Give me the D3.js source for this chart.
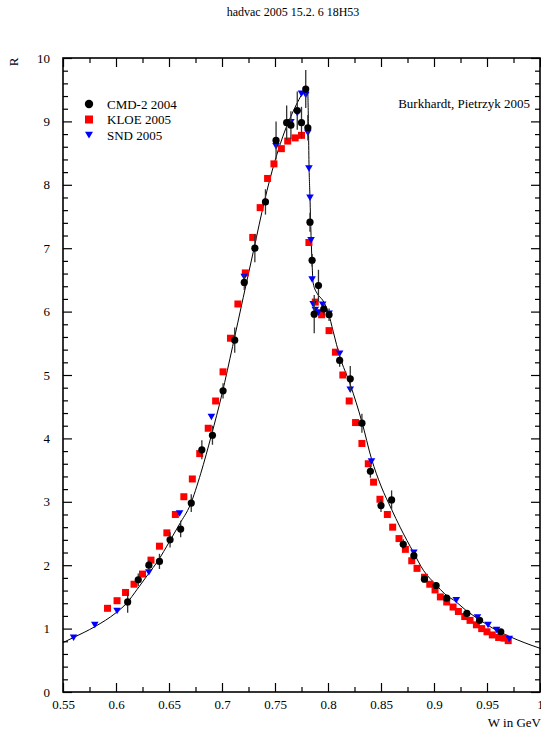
<!DOCTYPE html>
<html>
<head>
<meta charset="utf-8">
<script src="https://cdn.jsdelivr.net/npm/d3@7/dist/d3.min.js"></script>
<style>
    body { margin: 0; background: #fff; }
    svg text { font-family: "Liberation Serif", "Times New Roman", serif; fill: #000; }
</style>
</head>
<body>
<div id="chart"></div>
<script>
// CMD-2 2004 (W in GeV, R, error)
const cmdW = [0.611, 0.621, 0.631, 0.641, 0.651, 0.661, 0.671, 0.681, 0.691, 0.701, 0.712, 0.721, 0.731, 0.741,
    0.751, 0.761, 0.765, 0.771, 0.775, 0.779, 0.781, 0.783, 0.785, 0.787, 0.791, 0.796, 0.801, 0.811, 0.821,
    0.832, 0.840, 0.850, 0.860, 0.871, 0.881, 0.891, 0.902, 0.912, 0.931, 0.943, 0.963];
const cmdR = [1.42, 1.77, 2.00, 2.06, 2.40, 2.57, 2.98, 3.82, 4.05, 4.75, 5.55, 6.46, 7.00, 7.73,
    8.70, 8.98, 8.94, 9.17, 8.98, 9.51, 8.90, 7.41, 6.81, 5.96, 6.41, 6.04, 5.95, 5.23, 4.94,
    4.24, 3.48, 2.94, 3.03, 2.33, 2.15, 1.78, 1.68, 1.48, 1.24, 1.13, 0.95];
const cmdErr = [0.17, 0.10, 0.08, 0.12, 0.12, 0.13, 0.14, 0.15, 0.15, 0.12, 0.20, 0.12, 0.22, 0.20,
    0.30, 0.27, 0.22, 0.30, 0.25, 0.30, 0.20, 0.15, 0.10, 0.30, 0.25, 0.10, 0.10, 0.10, 0.20,
    0.15, 0.10, 0.10, 0.15, 0.08, 0.06, 0.05, 0.05, 0.05, 0.05, 0.04, 0.04];

// KLOE 2005
const kloeW = [0.592, 0.601, 0.609, 0.617, 0.625, 0.633, 0.641, 0.648, 0.656, 0.664, 0.672, 0.679, 0.687,
    0.694, 0.701, 0.708, 0.715, 0.722, 0.729, 0.736, 0.743, 0.749, 0.756, 0.762, 0.769, 0.775, 0.782,
    0.788, 0.794, 0.801, 0.807, 0.814, 0.820, 0.826, 0.832, 0.838, 0.843, 0.849, 0.856, 0.861, 0.867,
    0.873, 0.879, 0.884, 0.891, 0.896, 0.901, 0.906, 0.912, 0.918, 0.923, 0.929, 0.934, 0.940, 0.945,
    0.950, 0.955, 0.961, 0.966, 0.970];
const kloeR = [1.32, 1.44, 1.57, 1.70, 1.86, 2.08, 2.30, 2.51, 2.80, 3.08, 3.36, 3.76, 4.16,
    4.59, 5.05, 5.58, 6.12, 6.61, 7.17, 7.64, 8.10, 8.33, 8.57, 8.69, 8.74, 8.78, 7.09,
    6.15, 5.95, 5.70, 5.36, 5.00, 4.59, 4.25, 3.92, 3.60, 3.31, 3.04, 2.80, 2.60, 2.42,
    2.25, 2.07, 1.95, 1.81, 1.70, 1.61, 1.50, 1.42, 1.34, 1.27, 1.19, 1.13, 1.06, 1.00,
    0.95, 0.90, 0.86, 0.85, 0.81];

// SND 2005
const sndW = [0.560, 0.580, 0.601, 0.631, 0.660, 0.690, 0.721, 0.751, 0.765, 0.771, 0.775, 0.779, 0.781,
    0.782, 0.783, 0.784, 0.785, 0.786, 0.788, 0.791, 0.795, 0.801, 0.811, 0.821, 0.841, 0.881, 0.921,
    0.941, 0.951, 0.959, 0.971];
const sndR = [0.86, 1.06, 1.28, 1.89, 2.82, 4.34, 6.55, 8.61, 8.99, 9.13, 9.44, 9.42, 8.82,
    8.26, 7.80, 7.13, 6.51, 6.12, 6.03, 5.99, 6.11, 5.97, 5.34, 4.77, 3.64, 2.20, 1.45,
    1.18, 1.06, 0.98, 0.84];

// fit curve
const fitW = [0.55, 0.56, 0.58, 0.60, 0.61, 0.62, 0.63, 0.64, 0.65, 0.66, 0.67, 0.68, 0.69, 0.70, 0.71,
    0.72, 0.73, 0.74, 0.75, 0.76, 0.765, 0.77, 0.775, 0.779, 0.7808, 0.7815, 0.782, 0.783, 0.784, 0.785,
    0.786, 0.79, 0.795, 0.80, 0.805, 0.811, 0.821, 0.832, 0.841, 0.85, 0.86, 0.868, 0.881, 0.89, 0.902,
    0.91, 0.921, 0.93, 0.943, 0.955, 0.972, 0.985, 1.0, 1.01];
const fitR = [0.78, 0.86, 1.03, 1.25, 1.40, 1.62, 1.85, 2.08, 2.36, 2.65, 2.95, 3.45, 4.05, 4.70, 5.45,
    6.22, 6.98, 7.74, 8.38, 8.88, 9.08, 9.26, 9.42, 9.55, 9.50, 9.00, 8.40, 7.80, 7.20, 6.75,
    6.45, 6.28, 6.18, 6.00, 5.68, 5.30, 4.85, 4.26, 3.68, 3.25, 2.88, 2.60, 2.19, 1.92, 1.69,
    1.55, 1.42, 1.29, 1.14, 1.01, 0.87, 0.78, 0.69, 0.64];

const xMajor = [0.55, 0.6, 0.65, 0.7, 0.75, 0.8, 0.85, 0.9, 0.95, 1.0];
const xMinor = [0.575, 0.625, 0.675, 0.725, 0.775, 0.825, 0.875, 0.925, 0.975];
const yMajor = [0, 1, 2, 3, 4, 5, 6, 7, 8, 9, 10];
const yMinor = d3.range(0, 50).map(i => i * 0.2).filter(v => Math.abs(v - Math.round(v)) > 0.01);

const legendItems = [
    { label: 'CMD-2 2004', type: 'circle', color: '#000' },
    { label: 'KLOE 2005', type: 'square', color: '#ff0000' },
    { label: 'SND 2005', type: 'triangle', color: '#0000ff' }
];

const width = 541, height = 733;
const plot = { left: 63, right: 540, top: 58, bottom: 692 };

const svg = d3.select('#chart').append('svg')
    .attr('width', width)
    .attr('height', height);

const x = d3.scaleLinear().domain([0.55, 1.0]).range([plot.left, plot.right]);
const y = d3.scaleLinear().domain([0, 10]).range([plot.bottom, plot.top]);

// title
svg.append('text')
    .attr('x', 293)
    .attr('y', 16)
    .attr('text-anchor', 'middle')
    .style('font-size', '12px')
    .text('hadvac 2005 15.2. 6 18H53');

// axes, ticks point inward
const plotH = plot.bottom - plot.top;
const plotW = plot.right - plot.left;
function drawAxis(axis, transform, values, size, labels) {
    const g = svg.append('g')
        .attr('transform', transform)
        .call(axis.tickValues(values).tickSize(size).tickSizeOuter(0)
            .tickFormat(labels ? labels : ''));
    g.select('.domain').remove();
    g.selectAll('line').attr('stroke', '#000').attr('stroke-width', 1.2);
    return g;
}

const xb = drawAxis(d3.axisBottom(x), `translate(0,${plot.bottom})`, xMajor, -9, d => +d.toFixed(2));
xb.selectAll('text')
    .attr('y', 8)
    .attr('dy', '0.71em')
    .style('font-size', '13px');
drawAxis(d3.axisBottom(x), `translate(0,${plot.bottom})`, xMinor, -5);
drawAxis(d3.axisTop(x), `translate(0,${plot.top})`, xMajor, -9);
drawAxis(d3.axisTop(x), `translate(0,${plot.top})`, xMinor, -5);

const yl = drawAxis(d3.axisLeft(y), `translate(${plot.left},0)`, yMajor, -9, d => d);
yl.selectAll('text')
    .attr('x', -13)
    .style('font-size', '13px');
drawAxis(d3.axisLeft(y), `translate(${plot.left},0)`, yMinor, -5);
drawAxis(d3.axisRight(y), `translate(${plot.right},0)`, yMajor, -9);
drawAxis(d3.axisRight(y), `translate(${plot.right},0)`, yMinor, -5);

svg.append('rect')
    .attr('x', plot.left)
    .attr('y', plot.top)
    .attr('width', plotW)
    .attr('height', plotH)
    .attr('fill', 'none')
    .attr('stroke', '#000')
    .attr('stroke-width', 1.6);

// axis titles
svg.append('text')
    .attr('transform', `translate(18,62) rotate(-90)`)
    .attr('text-anchor', 'middle')
    .style('font-size', '13px')
    .text('R');

svg.append('text')
    .attr('x', 541)
    .attr('y', 727)
    .attr('text-anchor', 'end')
    .style('font-size', '13px')
    .text('W in GeV');

svg.append('text')
    .attr('x', 530)
    .attr('y', 108)
    .attr('text-anchor', 'end')
    .style('font-size', '13px')
    .text('Burkhardt, Pietrzyk 2005');

svg.append('clipPath')
    .attr('id', 'clip')
    .append('rect')
    .attr('x', plot.left)
    .attr('y', plot.top)
    .attr('width', plotW + 1)
    .attr('height', plotH);

const marks = svg.append('g').attr('clip-path', 'url(#clip)');

// fit curve
const fit = fitW.map((w, i) => [w, fitR[i]]);
marks.append('path')
    .datum(fit)
    .attr('fill', 'none')
    .attr('stroke', '#000')
    .attr('stroke-width', 1)
    .attr('d', d3.line().x(d => x(d[0])).y(d => y(d[1])).curve(d3.curveMonotoneX));

const triangle = s => `M${-s},${-s * 0.8}L${s},${-s * 0.8}L0,${s * 0.9}Z`;

// KLOE
marks.selectAll('.kloe')
    .data(kloeW.map((w, i) => [w, kloeR[i]]))
    .enter()
    .append('rect')
    .attr('class', 'kloe')
    .attr('x', d => x(d[0]) - 3.5)
    .attr('y', d => y(d[1]) - 3.5)
    .attr('width', 7)
    .attr('height', 7)
    .attr('fill', '#ff0000');

// SND
marks.selectAll('.snd')
    .data(sndW.map((w, i) => [w, sndR[i]]))
    .enter()
    .append('path')
    .attr('class', 'snd')
    .attr('transform', d => `translate(${x(d[0])},${y(d[1])})`)
    .attr('d', triangle(3.8))
    .attr('fill', '#0000ff');

// CMD-2 with error bars
const cmd = cmdW.map((w, i) => [w, cmdR[i], cmdErr[i]]);
marks.selectAll('.cmd-err')
    .data(cmd)
    .enter()
    .append('line')
    .attr('class', 'cmd-err')
    .attr('x1', d => x(d[0]))
    .attr('x2', d => x(d[0]))
    .attr('y1', d => y(d[1] - d[2]))
    .attr('y2', d => y(d[1] + d[2]))
    .attr('stroke', '#333')
    .attr('stroke-width', 1.3);

marks.selectAll('.cmd')
    .data(cmd)
    .enter()
    .append('circle')
    .attr('class', 'cmd')
    .attr('cx', d => x(d[0]))
    .attr('cy', d => y(d[1]))
    .attr('r', 3.6)
    .attr('fill', '#000');

// legend
const legend = svg.append('g').attr('transform', 'translate(89,104)');
legendItems.forEach((item, i) => {
    const row = legend.append('g').attr('transform', `translate(0,${i * 15.5})`);
    if (item.type === 'circle') {
        row.append('circle').attr('r', 4.2).attr('fill', item.color);
    } else if (item.type === 'square') {
        row.append('rect').attr('x', -4).attr('y', -4).attr('width', 8).attr('height', 8).attr('fill', item.color);
    } else {
        row.append('path').attr('d', triangle(4)).attr('fill', item.color);
    }
    row.append('text')
        .attr('x', 18)
        .attr('y', 4.5)
        .style('font-size', '13px')
        .text(item.label);
});
</script>
</body>
</html>
